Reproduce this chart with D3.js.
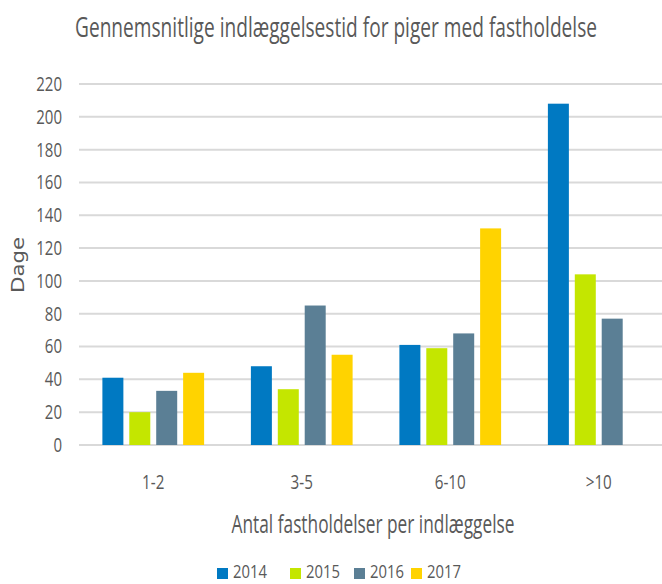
<!DOCTYPE html>
<html><head><meta charset="utf-8">
<script src="https://cdn.jsdelivr.net/npm/d3@7"></script>
<style>
body{margin:0;background:#fff;overflow:hidden;}
text{font-family:"Open Sans",sans-serif;}
</style></head>
<body><svg id="c" width="662" height="584"></svg>
<script>
const categories = ["1-2","3-5","6-10",">10"];
const years = ["2014","2015","2016","2017"];
const v2014 = [41,48,61,208];
const v2015 = [20,34,59,104];
const v2016 = [33,85,68,77];
const v2017 = [44,55,132,null];
const yTicks = [0,20,40,60,80,100,120,140,160,180,200,220];
const colors = ["#0079C2","#C4E600","#5B7F95","#FFD300"];
const seriesVals = [v2014,v2015,v2016,v2017];

function condense(sel, k){
  sel.each(function(){
    const L = this.getComputedTextLength();
    d3.select(this).attr("textLength", L*k).attr("lengthAdjust","spacingAndGlyphs");
  });
}
// horizontally scale a text placed at (cx,cy) so its width becomes w
function fitWidth(t, cx, cy, w){
  const L = t.node().getComputedTextLength();
  t.attr("x",0).attr("y",0).attr("transform",`translate(${cx},${cy}) scale(${w/L},1)`);
}

const svg = d3.select("#c");
const m = {l:79, r:673, t:84, b:445};
const x = d3.scaleBand().domain(categories).range([m.l,m.r]);
const y = d3.scaleLinear().domain([0,220]).range([m.b,m.t]);
const gw = x.bandwidth()*0.685;
const xs = d3.scaleBand().domain(years).range([0,gw]).paddingInner(0.22);
const off = (x.bandwidth()-gw)/2;

// grid
svg.append("g").selectAll("line").data(yTicks).join("line")
 .attr("x1",m.l).attr("x2",662).attr("y1",d=>y(d)).attr("y2",d=>y(d))
 .attr("stroke","#d9d9d9").attr("stroke-width",2);

// y axis labels
const ya = svg.append("g").attr("transform",`translate(${m.l},0)`)
 .call(d3.axisLeft(y).tickValues(yTicks).tickSize(0).tickPadding(17));
ya.select(".domain").remove();
ya.selectAll("text").attr("font-size",20).attr("fill","#595959")
 .style("font-family",'"Open Sans",sans-serif').call(condense,0.75);

// bars
const data = [];
categories.forEach((c,i)=>years.forEach((yr,j)=>{
  const v = seriesVals[j][i];
  if(v!=null) data.push({c,yr,v,j});
}));
svg.append("g").selectAll("rect").data(data).join("rect")
 .attr("x",d=>x(d.c)+off+xs(d.yr)).attr("width",xs.bandwidth())
 .attr("y",d=>y(d.v)).attr("height",d=>y(0)-y(d.v))
 .attr("fill",d=>colors[d.j]);

// x axis labels
const xa = svg.append("g").attr("transform",`translate(0,${m.b})`)
 .call(d3.axisBottom(x).tickSize(0).tickPadding(30));
xa.select(".domain").remove();
xa.selectAll("text").attr("font-size",20).attr("fill","#595959")
 .style("font-family",'"Open Sans",sans-serif').call(condense,0.76);

// title
const title = svg.append("text").attr("text-anchor","middle")
 .attr("font-size",28).attr("fill","#595959")
 .text("Gennemsnitlige indlæggelsestid for piger med fastholdelse");
fitWidth(title,336,37,522);

// y title
svg.append("text").attr("transform","translate(24,265) rotate(-90)").attr("text-anchor","middle")
 .attr("font-size",17).attr("fill","#595959").style("font-family","'DejaVu Sans',sans-serif")
 .attr("textLength",56).attr("lengthAdjust","spacingAndGlyphs")
 .text("Dage");

// x title
const xt = svg.append("text").attr("text-anchor","middle")
 .attr("font-size",25).attr("fill","#595959")
 .text("Antal fastholdelser per indlæggelse");
fitWidth(xt,373,533,283);

// legend
const lx = [217,290,354,411];
const lg = svg.append("g").selectAll("g").data(years).join("g")
 .attr("transform",(d,i)=>`translate(${lx[i]},578)`);
lg.append("rect").attr("x",0).attr("y",-10).attr("width",11).attr("height",11).attr("fill",(d,i)=>colors[i]);
lg.append("text").attr("x",16).attr("y",0).attr("font-size",19).attr("fill","#595959")
 .text(d=>d).call(condense,0.78);
</script></body></html>
